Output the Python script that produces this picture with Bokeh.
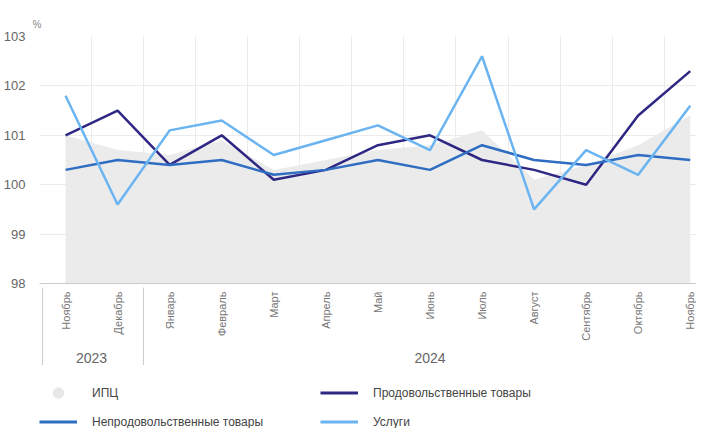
from bokeh.plotting import figure
from bokeh.layouts import column
from bokeh.models import Range1d, FixedTicker, LinearAxis, Legend, LegendItem, ColumnDataSource
from bokeh.embed import file_html
from bokeh.resources import INLINE
from math import pi

months = ["Ноябрь", "Декабрь", "Январь", "Февраль", "Март", "Апрель", "Май",
          "Июнь", "Июль", "Август", "Сентябрь", "Октябрь", "Ноябрь"]
years = ["2023", "2024"]
year_centers = [0.5, 7]
year_bounds = [-0.44, 1.5]

cpi = [101.0, 100.7, 100.6, 100.9, 100.3, 100.5, 100.7, 100.8, 101.1, 100.1, 100.4, 100.8, 101.4]
food = [101.0, 101.5, 100.4, 101.0, 100.1, 100.3, 100.8, 101.0, 100.5, 100.3, 100.0, 101.4, 102.3]
nonfood = [100.3, 100.5, 100.4, 100.5, 100.2, 100.3, 100.5, 100.3, 100.8, 100.5, 100.4, 100.6, 100.5]
services = [101.8, 99.6, 101.1, 101.3, 100.6, 100.9, 101.2, 100.7, 102.6, 99.5, 100.7, 100.2, 101.6]
y_ticks = [98, 99, 100, 101, 102, 103]

labels = ["ИПЦ", "Продовольственные товары", "Непродовольственные товары", "Услуги"]
C_CPI, C_FOOD, C_NONFOOD, C_SERV = "#e8e8e8", "#2e2783", "#2f6dc2", "#6ab4f2"

FONT = "Liberation Sans"
x = list(range(len(months)))
src = ColumnDataSource(dict(x=x, cpi=cpi, food=food, nonfood=nonfood, services=services))

p = figure(width=696, height=365, output_backend="svg", toolbar_location=None,
           x_range=Range1d(-0.5, 12.12), y_range=Range1d(98, 103),
           min_border_left=36, min_border_right=0, min_border_top=36, min_border_bottom=0,
           title="%")
p.outline_line_color = None
p.background_fill_color = "white"

p.title.align = "left"
p.title.offset = -7
p.title.standoff = 13
p.title.text_font_size = "10px"
p.title.text_color = "#888888"
p.title.text_font_style = "normal"
p.title.text_font = FONT

# grids
p.ygrid.ticker = FixedTicker(ticks=y_ticks)
p.ygrid.grid_line_color = "#ebebeb"
p.xgrid.ticker = FixedTicker(ticks=[k - 0.5 for k in range(len(months) + 1)])
p.xgrid.grid_line_color = "#ebebeb"

# y axis
p.yaxis.ticker = FixedTicker(ticks=y_ticks)
p.yaxis.axis_line_color = None
p.yaxis.major_tick_line_color = None
p.yaxis.minor_tick_line_color = None
p.yaxis.major_label_text_font_size = "13px"
p.yaxis.major_label_text_color = "#666666"
p.yaxis.major_label_text_font = FONT
p.yaxis.major_label_standoff = 8

# x axis (months)
xa = p.xaxis[0]
xa.ticker = FixedTicker(ticks=x, minor_ticks=[])
xa.major_label_overrides = {i: m for i, m in zip(x, months)}
xa.major_label_orientation = pi / 2
xa.major_label_text_font_size = "11px"
xa.major_label_text_color = "#777777"
xa.major_label_text_font = FONT
xa.major_label_standoff = 8
xa.major_tick_line_color = None
xa.major_tick_out = 0
xa.major_tick_in = 0
xa.minor_tick_line_color = None
xa.minor_tick_out = 0
xa.minor_tick_in = 0
xa.axis_line_color = "#cccccc"

# year axis
ya = LinearAxis(ticker=FixedTicker(ticks=year_centers, minor_ticks=[]),
                major_label_overrides=dict(zip(year_centers, years)),
                axis_line_color=None, major_tick_line_color=None, minor_tick_line_color=None,
                major_tick_out=0, major_tick_in=0, minor_tick_out=0, minor_tick_in=0,
                major_label_text_font_size="14px", major_label_text_color="#666666",
                major_label_text_font=FONT, major_label_standoff=9)
p.add_layout(ya, "below")

# separator axis (year group boundaries)
sa = LinearAxis(ticker=FixedTicker(ticks=[], minor_ticks=year_bounds),
                axis_line_color=None, major_tick_line_color=None,
                major_tick_out=0, major_tick_in=0,
                minor_tick_line_color="#cccccc", minor_tick_out=0, minor_tick_in=78)
p.add_layout(sa, "below")

# data
p.varea(x="x", y1=98, y2="cpi", source=src, fill_color="#ebebeb")
p.line("x", "food", source=src, line_color=C_FOOD, line_width=2.5)
p.line("x", "nonfood", source=src, line_color=C_NONFOOD, line_width=2.5)
p.line("x", "services", source=src, line_color=C_SERV, line_width=2.5)

# legend figure
q = figure(width=696, height=63, output_backend="svg", toolbar_location=None,
           x_range=Range1d(0, 1), y_range=Range1d(0, 1),
           min_border_left=36, min_border_right=0, min_border_top=13, min_border_bottom=0)
q.axis.visible = False
q.grid.visible = False
q.outline_line_color = None
nan = float("nan")
g_cpi = q.scatter(x=[nan], y=[nan], size=17, marker="circle", fill_color=C_CPI, line_color=None)
g_food = q.line(x=[nan], y=[nan], line_color=C_FOOD, line_width=3)
g_nonfood = q.line(x=[nan], y=[nan], line_color=C_NONFOOD, line_width=3)
g_serv = q.line(x=[nan], y=[nan], line_color=C_SERV, line_width=3)

legend = Legend(items=[LegendItem(label=labels[0], renderers=[g_cpi]),
                       LegendItem(label=labels[1], renderers=[g_food]),
                       LegendItem(label=labels[2], renderers=[g_nonfood]),
                       LegendItem(label=labels[3], renderers=[g_serv])],
                ncols=2, orientation="horizontal", location="top_left",
                glyph_width=38, glyph_height=29, label_height=14, label_standoff=15,
                label_width=228, spacing=0, padding=0, margin=0, border_line_color=None,
                background_fill_alpha=0, label_text_font_size="12px",
                label_text_color="#444444", label_text_font=FONT)
q.add_layout(legend, "center")

open("out.html", "w").write(file_html(column(p, q, spacing=0), INLINE))
